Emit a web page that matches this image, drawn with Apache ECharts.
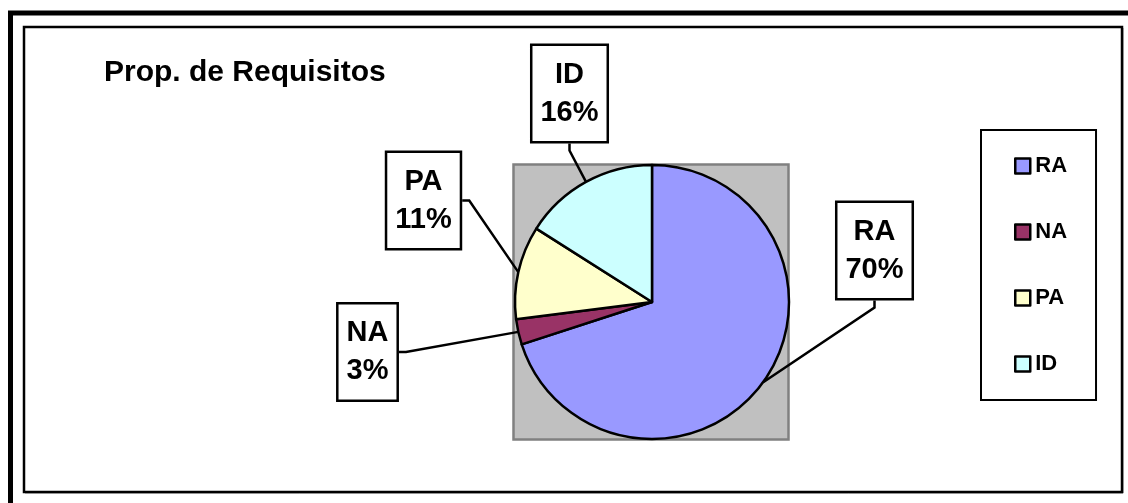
<!DOCTYPE html>
<html>
<head>
<meta charset="utf-8">
<script src="https://cdn.jsdelivr.net/npm/echarts@6/dist/echarts.min.js"></script>
<style>
html,body{margin:0;padding:0;background:#fff;}
#chart{width:1128px;height:503px;}
</style>
</head>
<body>
<div id="chart"></div>
<script>
const titleText = 'Prop. de Requisitos';
const categories = ['RA', 'NA', 'PA', 'ID'];
const values = [70, 3, 11, 16];
const colors = ['#9999ff', '#993366', '#ffffcc', '#ccffff'];

// label box placement (centre x, centre y, side where leader line attaches)
const labelPlacement = {
  RA: [874.5, 250.5, 'bottom'],
  NA: [367.5, 352, 'right'],
  PA: [423.5, 200.5, 'right'],
  ID: [569.5, 93.5, 'bottom']
};

const FONT = "'Liberation Sans', Arial, sans-serif";
const chart = echarts.init(document.getElementById('chart'), null, {renderer: 'canvas'});

const option = {
  animation: false,
  backgroundColor: '#fff',
  title: {
    text: titleText,
    left: 104,
    top: 58,
    padding: 0,
    textStyle: {fontFamily: FONT, fontSize: 30, fontWeight: 'bold', color: '#000'}
  },
  legend: {
    orient: 'vertical',
    left: 981,
    top: 130,
    padding: [25, 29, 25, 33],
    itemGap: 44,
    itemWidth: 15,
    itemHeight: 15,
    icon: 'rect',
    borderColor: '#000',
    borderWidth: 2,
    backgroundColor: '#fff',
    selectedMode: false,
    data: categories,
    itemStyle: {borderColor: '#000', borderWidth: 2.5},
    textStyle: {fontFamily: FONT, fontSize: 22, fontWeight: 'bold', color: '#000'}
  },
  graphic: [
    {type: 'rect', z: 0, shape: {x: 10.5, y: 13, width: 3000, height: 3000},
     style: {fill: null, stroke: '#000', lineWidth: 5}},
    {type: 'rect', z: 0, shape: {x: 25, y: 28, width: 1098, height: 465},
     style: {fill: null, stroke: '#888', lineWidth: 1}},
    {type: 'rect', z: 0, shape: {x: 24, y: 27, width: 1098, height: 465},
     style: {fill: '#fff', stroke: '#000', lineWidth: 2.5}},
    {type: 'rect', z: 1, shape: {x: 513.5, y: 164.5, width: 275, height: 275},
     style: {fill: '#c0c0c0', stroke: '#808080', lineWidth: 2.5}}
  ],
  series: [{
    type: 'pie',
    z: 5,
    center: [652, 302],
    radius: 137,
    startAngle: 90,
    clockwise: true,
    avoidLabelOverlap: false,
    emphasis: {disabled: true},
    itemStyle: {borderColor: '#000', borderWidth: 2.5},
    data: categories.map((c, i) => ({name: c, value: values[i], itemStyle: {color: colors[i]}})),
    label: {
      show: true,
      position: 'outside',
      formatter: p => p.name + '\n' + Math.round(p.percent) + '%',
      fontFamily: FONT,
      fontSize: 29,
      fontWeight: 'bold',
      color: '#000',
      lineHeight: 38,
      align: 'center',
      backgroundColor: '#fff',
      borderColor: '#000',
      borderWidth: 2.5,
      padding: [10, 8, 9, 8]
    },
    labelLine: {show: true, length: 10, length2: 10, smooth: false,
                lineStyle: {color: '#000', width: 2.5}},
    labelLayout: function (params) {
      const name = categories[params.dataIndex];
      const b = labelPlacement[name];
      const w = params.labelRect.width, h = params.labelRect.height;
      const a = params.labelLinePoints ? params.labelLinePoints[0] : [b[0], b[1]];
      let p1, p2;
      if (b[2] === 'bottom') {
        p2 = [b[0], b[1] + h / 2];
        p1 = [b[0], b[1] + h / 2 + 7];
      } else {
        p2 = [b[0] + w / 2, b[1]];
        p1 = [b[0] + w / 2 + 7, b[1]];
      }
      return {x: b[0], y: b[1], align: 'center', verticalAlign: 'middle',
              labelLinePoints: [a, p1, p2]};
    }
  }]
};
chart.setOption(option);
</script>
</body>
</html>
